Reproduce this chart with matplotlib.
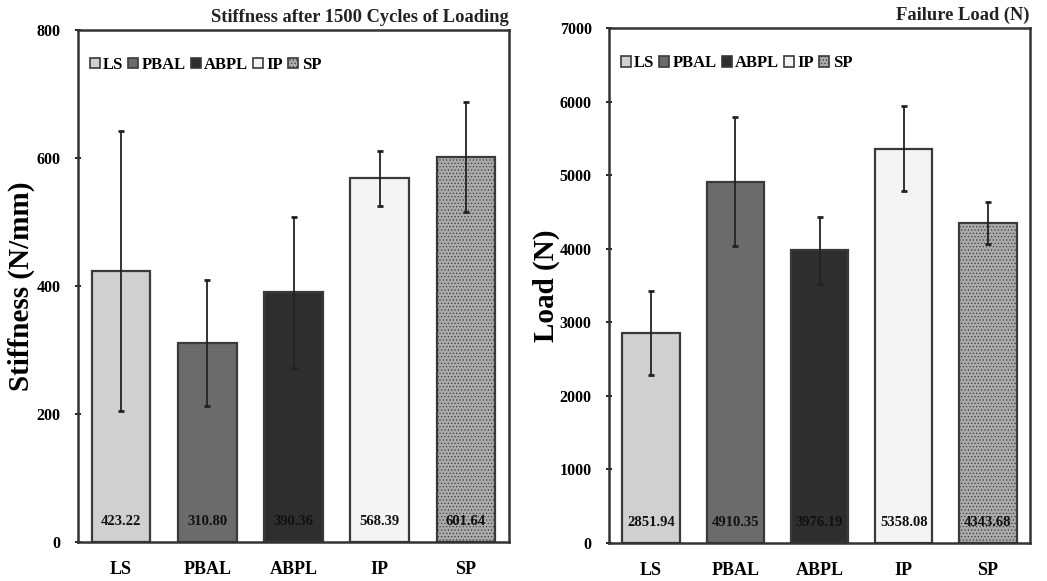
import numpy as np
import matplotlib
matplotlib.use("Agg")
import matplotlib.pyplot as plt
from matplotlib.patches import Patch

plt.rcParams['font.family'] = ['Liberation Serif', 'DejaVu Serif']
plt.rcParams['font.weight'] = 'bold'
plt.rcParams['hatch.linewidth'] = 0.5

groups = ["LS", "PBAL", "ABPL", "IP", "SP"]
stiffness = [423.22, 310.80, 390.36, 568.39, 601.64]
stiffness_err = [219, 98, 118, 43, 86]
load = [2851.94, 4910.35, 3976.19, 5358.08, 4343.68]
load_err = [568, 874, 455, 580, 286]

fills = ["#d0d0d0", "#6b6b6b", "#2e2e2e", "#f4f4f4", "#ababab"]
hatches = ["", "", "", "", "....."]
edge = "#3a3a3a"


def bar_panel(ax, values, errs, ymax, ystep, title, ylabel, label_x):
    x = np.arange(len(groups))
    for i in range(len(groups)):
        ax.bar(x[i], values[i], width=0.68, color=fills[i], edgecolor=edge,
               linewidth=1.6, hatch=hatches[i], zorder=2)
    ax.errorbar(x, values, yerr=errs, fmt='none', ecolor='#222222',
                elinewidth=1.3, capsize=2, capthick=2, zorder=3)
    for i, v in enumerate(values):
        ax.annotate(f"{v:.2f}", xy=(x[i], 0), xytext=(0, 10),
                    textcoords='offset points', ha='center', va='bottom',
                    fontsize=10.5, fontweight='bold', color='#111111', zorder=4)
    ax.set_xlim(-0.5, len(groups) - 0.5)
    ax.set_ylim(0, ymax)
    ax.set_yticks(np.arange(0, ymax + 1, ystep))
    ax.set_xticks(x)
    ax.set_xticklabels(groups)
    ax.tick_params(axis='x', length=0, pad=14, labelsize=13)
    ax.tick_params(axis='y', direction='inout', length=5, width=1.2,
                   labelsize=11.5, pad=10)
    for s in ax.spines.values():
        s.set_linewidth(1.8)
        s.set_color('#333333')
    ax.set_ylabel(ylabel, fontsize=21, fontweight='bold')
    ax.yaxis.set_label_coords(label_x, 0.5)
    ax.text(1.0, 1.008, title, transform=ax.transAxes, ha='right', va='bottom',
            fontsize=13.3, fontweight='bold', color='#222222')
    handles = [Patch(facecolor=fills[i], edgecolor=edge, hatch=hatches[i],
                     linewidth=1.2, label=groups[i]) for i in range(len(groups))]
    ax.legend(handles=handles, loc='upper left', bbox_to_anchor=(0.0, 0.97),
              ncol=5, frameon=False, handlelength=0.6, handleheight=0.6,
              handletextpad=0.2, columnspacing=0.3, borderaxespad=0.3,
              prop={'family': 'Liberation Serif', 'weight': 'bold', 'size': 12})


fig = plt.figure(figsize=(10.47, 5.81), dpi=100)
ax1 = fig.add_axes([78 / 1047, 39 / 581, 431 / 1047, 512 / 581])
ax2 = fig.add_axes([609 / 1047, 38 / 581, 421 / 1047, 515 / 581])

bar_panel(ax1, stiffness, stiffness_err, 800, 200,
          "Stiffness after 1500 Cycles of Loading", "Stiffness (N/mm)", -0.10)
bar_panel(ax2, load, load_err, 7000, 1000, "Failure Load (N)", "Load (N)", -0.116)

fig.savefig("out.png", dpi=100)
